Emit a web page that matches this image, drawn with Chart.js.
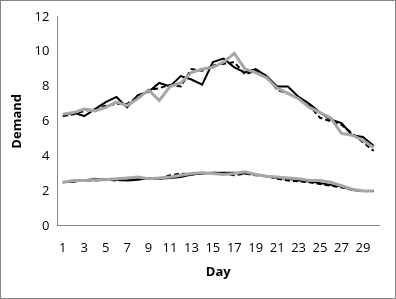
<!DOCTYPE html>
<html>
<head>
<meta charset="utf-8">
<script src="https://cdn.jsdelivr.net/npm/chart.js@4/dist/chart.umd.min.js"></script>
<style>
  html, body { margin: 0; padding: 0; background: #fff; }
  #wrap { width: 396px; height: 299px; box-sizing: border-box; border: 1px solid #868686; }
  canvas { display: block; }
</style>
</head>
<body>
<div id="wrap"><canvas id="chart" width="394" height="297"></canvas></div>
<script>
const days = Array.from({ length: 30 }, (_, i) => String(i + 1));

// upper group
const highGray   = [6.4, 6.5, 6.7, 6.6, 6.8, 7.1, 6.9, 7.3, 7.8, 7.2, 8.0, 8.2, 8.8, 9.0, 9.1, 9.4, 9.9, 9.0, 8.8, 8.5, 7.9, 7.6, 7.3, 6.8, 6.5, 6.2, 5.3, 5.2, 4.9, 4.5];
const highSolid  = [6.3, 6.5, 6.3, 6.7, 7.1, 7.4, 6.8, 7.5, 7.7, 8.2, 8.0, 8.6, 8.4, 8.1, 9.4, 9.6, 9.1, 8.8, 9.0, 8.6, 8.0, 8.0, 7.4, 7.0, 6.5, 6.1, 5.9, 5.2, 5.1, 4.6];
const highDashed = [6.3, 6.4, 6.6, 6.7, 6.9, 7.0, 7.0, 7.4, 7.8, 7.9, 8.1, 8.0, 9.0, 8.9, 9.2, 9.3, 9.4, 8.7, 8.9, 8.6, 7.8, 7.6, 7.3, 6.9, 6.2, 6.0, 5.8, 5.3, 4.8, 4.3];

// lower group
const lowGray   = [2.5, 2.6, 2.6, 2.65, 2.65, 2.7, 2.75, 2.8, 2.7, 2.75, 2.8, 2.9, 3.0, 3.05, 3.0, 2.95, 3.0, 3.1, 2.95, 2.85, 2.8, 2.75, 2.7, 2.6, 2.6, 2.5, 2.3, 2.1, 2.0, 2.0];
const lowSolid  = [2.5, 2.55, 2.6, 2.7, 2.65, 2.65, 2.6, 2.65, 2.75, 2.7, 2.75, 2.8, 2.95, 3.0, 3.05, 3.05, 3.05, 3.0, 2.95, 2.85, 2.75, 2.7, 2.6, 2.55, 2.45, 2.35, 2.25, 2.05, 2.0, 2.0];
const lowDashed = [2.5, 2.55, 2.6, 2.6, 2.65, 2.6, 2.65, 2.7, 2.7, 2.7, 2.9, 3.0, 2.95, 3.0, 3.05, 3.0, 2.9, 3.0, 2.9, 2.85, 2.7, 2.6, 2.55, 2.5, 2.4, 2.3, 2.2, 2.1, 2.0, 2.0];

const yTicks = [0, 2, 4, 6, 8, 10, 12];

const gray = { borderColor: '#a6a6a6', borderWidth: 3 };
const solid = { borderColor: '#000000', borderWidth: 2 };
const dashed = { borderColor: '#000000', borderWidth: 2, borderDash: [5, 3] };

function serie(data, style) {
    return Object.assign({ data: data, pointRadius: 0, tension: 0, fill: false }, style);
}

const font = { family: 'Open Sans, Liberation Sans, sans-serif', size: 13 };

new Chart(document.getElementById('chart'), {
    type: 'line',
    data: {
        labels: days,
        datasets: [
            serie(highGray, gray),
            serie(lowGray, gray),
            serie(highDashed, dashed),
            serie(lowDashed, dashed),
            serie(highSolid, solid),
            serie(lowSolid, solid)
        ]
    },
    options: {
        responsive: false,
        animation: false,
        layout: { padding: { top: 5, right: 16, left: 4, bottom: 14 } },
        plugins: { legend: { display: false }, tooltip: { enabled: false } },
        scales: {
            x: {
                offset: true,
                grid: { display: false, drawTicks: false },
                border: { display: true, color: '#868686', width: 1 },
                ticks: {
                    autoSkip: false, maxRotation: 0, color: '#000', font: font, padding: 15,
                    callback: (v, i) => (i % 2 === 0 ? days[i] : '')
                },
                title: { display: true, text: 'Day', color: '#000', font: { family: font.family, size: 13, weight: 'bold' }, padding: { top: -7 } }
            },
            y: {
                min: yTicks[0],
                max: yTicks[yTicks.length - 1],
                grid: { display: false, drawTicks: false },
                border: { display: true, color: '#868686', width: 1 },
                ticks: { stepSize: 2, color: '#000', font: font, padding: 8 },
                title: { display: true, text: 'Demand', color: '#000', font: { family: font.family, size: 13, weight: 'bold' }, padding: { bottom: 2 } }
            }
        }
    }
});
</script>
</body>
</html>
